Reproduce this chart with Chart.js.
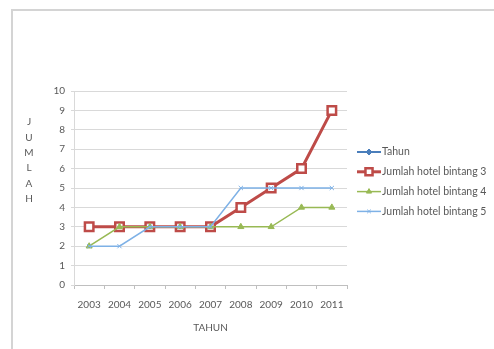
<!DOCTYPE html>
<html>
<head>
<meta charset="utf-8">
<script src="https://cdn.jsdelivr.net/npm/chart.js@4/dist/chart.umd.min.js"></script>
<style>
  html, body { margin: 0; padding: 0; background: #fff; overflow: hidden; }
  #wrap { position: relative; width: 494px; height: 349px; }
  #frame { position: absolute; left: 11px; top: 9px; width: 600px; height: 600px; border: 2px solid #d4d4d4; }
  canvas { position: absolute; left: 0; top: 0; }
</style>
</head>
<body>
<div id="wrap">
  <div id="frame"></div>
  <canvas id="myChart" width="494" height="349"></canvas>
</div>
<script>
    var labels = ['2003', '2004', '2005', '2006', '2007', '2008', '2009', '2010', '2011']
    var tahun = [2003, 2004, 2005, 2006, 2007, 2008, 2009, 2010, 2011]
    var bintang3 = [3, 3, 3, 3, 3, 4, 5, 6, 9]
    var bintang4 = [2, 3, 3, 3, 3, 3, 3, 4, 4]
    var bintang5 = [2, 2, 3, 3, 3, 5, 5, 5, 5]
    var yTicks = [0, 1, 2, 3, 4, 5, 6, 7, 8, 9, 10]

    var fontFamily = 'Lato, "Liberation Sans", sans-serif'
    var textColor = '#595959'

    // legend + vertical "JUMLAH" title, drawn the Excel way
    var extras = {
        id: 'extras',
        afterDraw: function(chart) {
            var ctx = chart.ctx
            ctx.save()
            ctx.font = '10px ' + fontFamily
            ctx.fillStyle = textColor
            ctx.textAlign = 'center'
            ctx.textBaseline = 'middle'
            var letters = ['J', 'U', 'M', 'L', 'A', 'H']
            for (var i = 0; i < letters.length; i++) {
                ctx.fillText(letters[i], 29, 122 + i * 15.4)
            }
            ctx.font = '10.5px ' + fontFamily
            chart.data.datasets.forEach(function(ds, i) {
                var y = 152 + i * 19.8
                ctx.strokeStyle = ds.borderColor
                ctx.lineWidth = ds.borderWidth
                ctx.beginPath()
                ctx.moveTo(357, y)
                ctx.lineTo(381, y)
                ctx.stroke()
                ctx.fillStyle = ds.pointBackgroundColor
                ctx.strokeStyle = ds.pointBorderColor
                ctx.lineWidth = ds.pointBorderWidth
                Chart.helpers.drawPoint(ctx, {
                    pointStyle: ds.pointStyle,
                    radius: i == 1 ? 5 : ds.pointRadius - 0.5,
                    rotation: 0,
                    borderWidth: ds.pointBorderWidth
                }, 369, y)
                ctx.fillStyle = textColor
                ctx.textAlign = 'left'
                ctx.fillText(ds.label, 382, y)
            })
            ctx.restore()
        }
    }

    var ctx = document.getElementById('myChart').getContext('2d');
    var myChart = new Chart(ctx, {
        type: 'line',
        data: {
            labels: labels,
            datasets: [{
                label: 'Tahun',
                data: tahun,
                borderColor: '#4a7ebb',
                borderWidth: 2,
                pointStyle: 'rectRot',
                pointRadius: 3.5,
                pointBackgroundColor: '#4a7ebb',
                pointBorderColor: '#4a7ebb',
                pointBorderWidth: 1,
                order: 4
            }, {
                label: 'Jumlah hotel bintang 3',
                data: bintang3,
                borderColor: '#be4b48',
                borderWidth: 3,
                pointStyle: 'rect',
                pointRadius: 6,
                pointBackgroundColor: '#ffffff',
                pointBorderColor: '#be4b48',
                pointBorderWidth: 2.5,
                order: 3
            }, {
                label: 'Jumlah hotel bintang 4',
                data: bintang4,
                borderColor: '#98b954',
                borderWidth: 1.5,
                pointStyle: 'triangle',
                pointRadius: 3.5,
                pointBackgroundColor: '#98b954',
                pointBorderColor: '#98b954',
                pointBorderWidth: 1,
                order: 2
            }, {
                label: 'Jumlah hotel bintang 5',
                data: bintang5,
                borderColor: '#7eb1e6',
                borderWidth: 1.5,
                pointStyle: 'crossRot',
                pointRadius: 3,
                pointBackgroundColor: '#7eb1e6',
                pointBorderColor: '#7eb1e6',
                pointBorderWidth: 1,
                order: 1
            }]
        },
        options: {
            responsive: false,
            animation: false,
            tension: 0,
            layout: {
                padding: { left: 20, top: 91, right: 147, bottom: 15 }
            },
            plugins: {
                legend: { display: false },
                tooltip: { enabled: false }
            },
            scales: {
                x: {
                    offset: true,
                    grid: {
                        offset: true,
                        drawOnChartArea: false,
                        drawTicks: true,
                        tickLength: 4,
                        color: '#bfbfbf'
                    },
                    border: { color: '#bfbfbf' },
                    ticks: {
                        color: textColor,
                        font: { family: fontFamily, size: 10 },
                        maxRotation: 0,
                        padding: 10
                    },
                    title: {
                        display: true,
                        text: 'TAHUN',
                        color: textColor,
                        font: { family: fontFamily, size: 10 },
                        padding: { top: 0, bottom: 0 }
                    },
                    afterFit: function(scale) { scale.height = 49 }
                },
                y: {
                    min: 0,
                    max: 10,
                    afterBuildTicks: function(scale) {
                        scale.ticks = yTicks.map(function(v) { return { value: v } })
                    },
                    grid: {
                        color: '#d9d9d9',
                        tickLength: 3
                    },
                    border: { color: '#d9d9d9' },
                    ticks: {
                        color: textColor,
                        font: { family: fontFamily, size: 10 },
                        padding: 6
                    },
                    afterFit: function(scale) { scale.width = 54 }
                }
            }
        },
        plugins: [extras]
    });
</script>
</body>
</html>
